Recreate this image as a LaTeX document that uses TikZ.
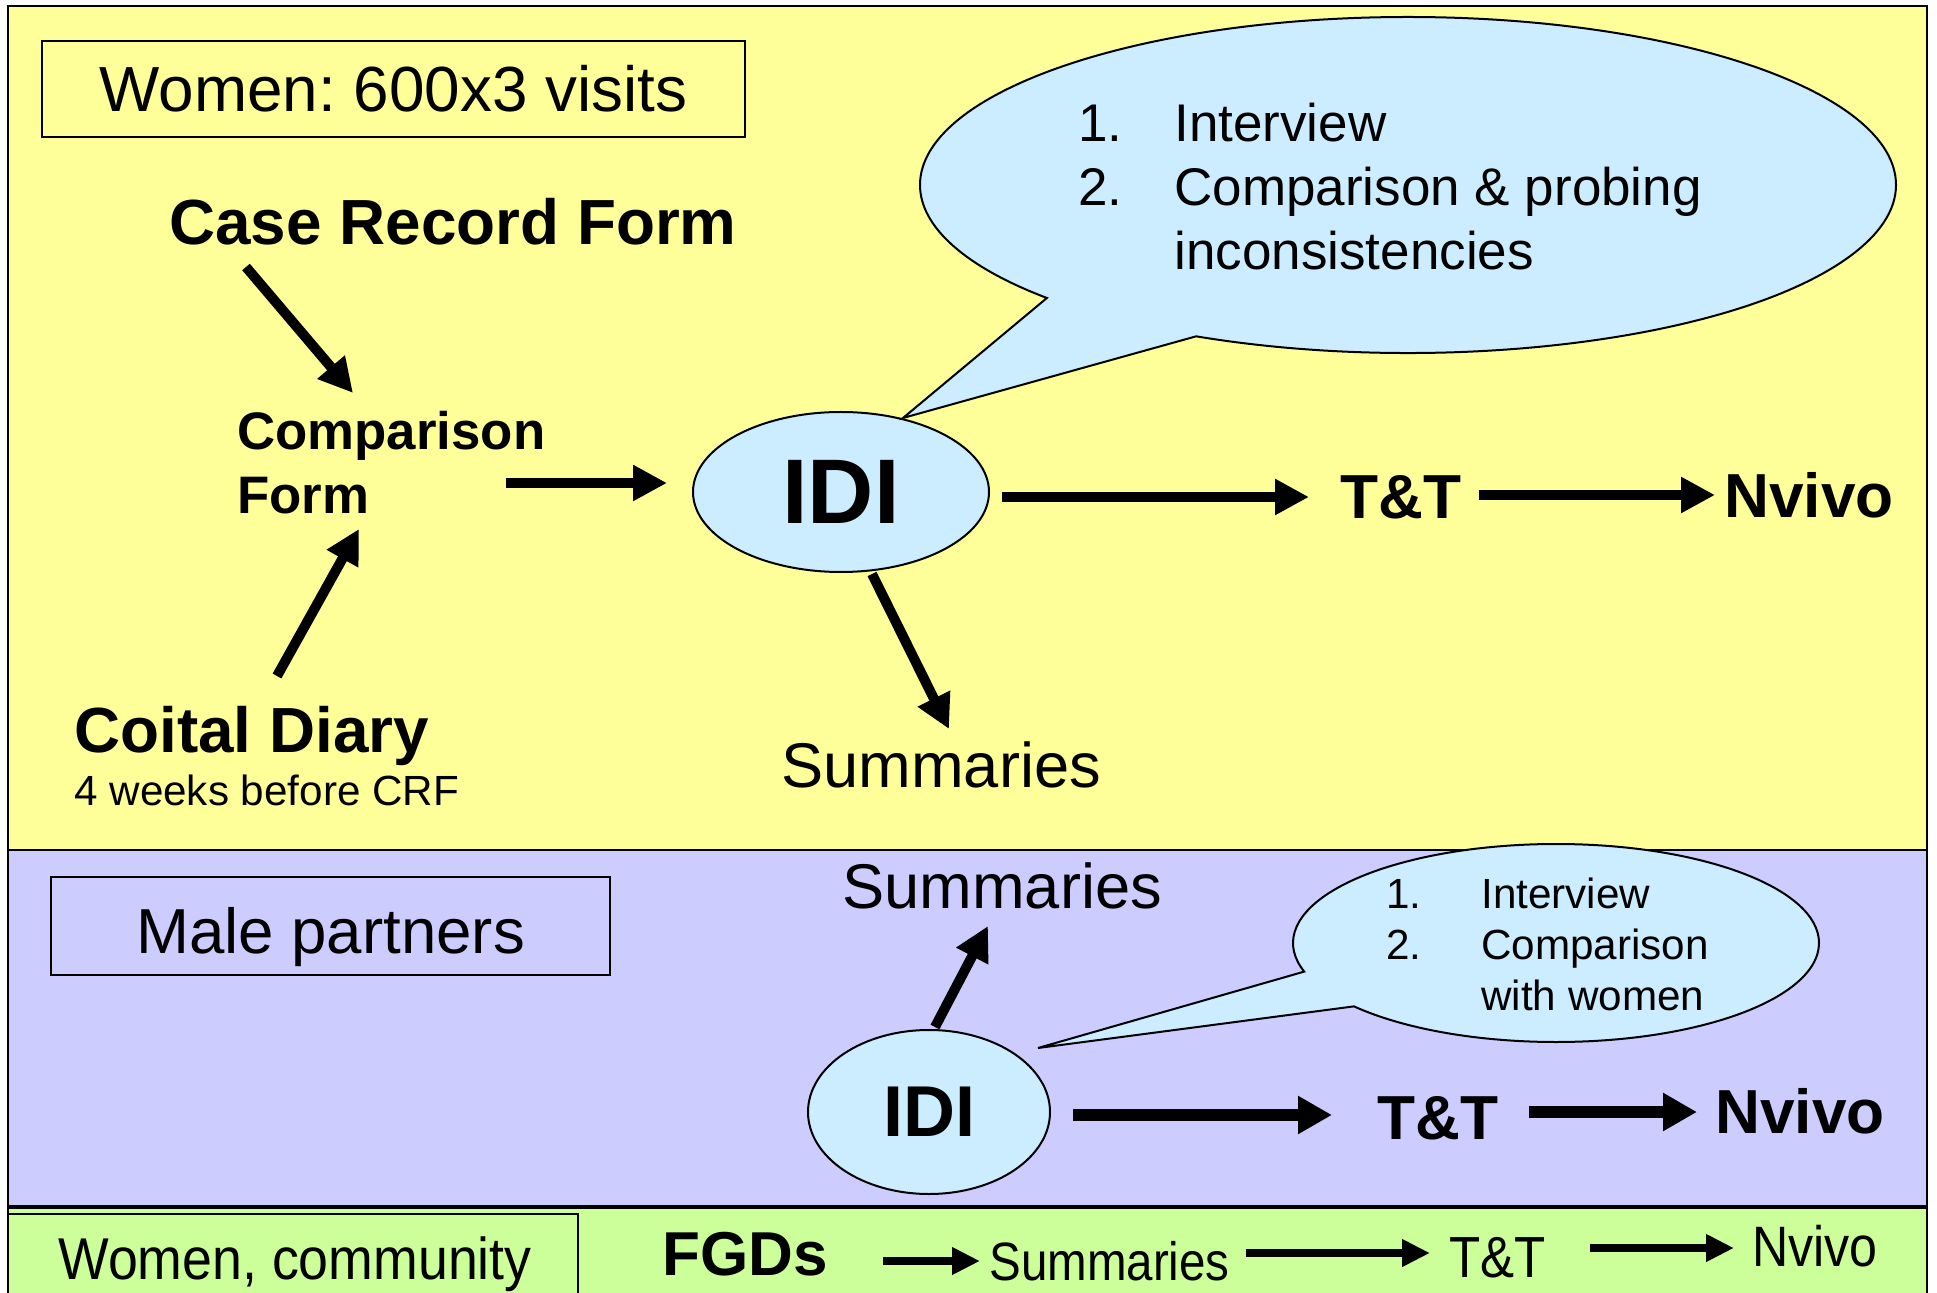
\documentclass[tikz,border=0pt]{standalone}
\usepackage{fontspec}
\setmainfont{Liberation Sans}
\newfontfamily\narrowfont{Liberation Sans}[FakeStretch=0.88]
\newfontfamily\commfont{Liberation Sans}[FakeStretch=0.91]
\usetikzlibrary{arrows.meta,shapes.geometric,shapes.callouts}
\definecolor{panelY}{HTML}{FFFF99}
\definecolor{panelP}{HTML}{CCCCFF}
\definecolor{panelG}{HTML}{CCFF99}
\definecolor{bubble}{HTML}{CCECFF}
\newcommand\myfs[2]{\fontsize{#1}{#2}\selectfont}
\begin{document}
\frenchspacing
\begin{tikzpicture}[x=0.5pt,y=-0.5pt,
  txt/.style={inner sep=0pt, anchor=base west},
  framebox/.style={draw, line width=1pt, inner sep=0pt},
  blob/.style={ellipse, draw, fill=bubble, line width=1pt, inner sep=0pt},
  bub/.style={ellipse callout, draw, fill=bubble, line width=1pt},
  arr/.style={line width=5pt, -{Triangle[length=17pt,width=17pt]}},
  arrM/.style={line width=6pt, -{Triangle[length=17pt,width=18pt]}},
  arrF/.style={line width=4pt, -{Triangle[length=14pt,width=13pt]}}]
\useasboundingbox (0,0) rectangle (1937,1293);
\clip (0,0) rectangle (1937,1293);
% panels
\filldraw[fill=panelY, line width=1pt] (8,6) rectangle (1927,850);
\filldraw[fill=panelP, line width=1pt] (8,850) rectangle (1927,1206);
\filldraw[fill=panelG, line width=1pt] (8,1208) rectangle (1927,1320);
% boxes
\node[framebox, minimum width=351.5pt, minimum height=48pt, font=\myfs{31.9}{38}] (womenbox) at (393.5,89) {Women: 600x3 visits};
\node[framebox, minimum width=279.5pt, minimum height=49pt] (malebox) at (330.5,926) {};
\node[inner sep=0pt, anchor=base, font=\myfs{31.8}{38}] (maletxt) at (330.5,953) {Male partners};
\node[framebox, minimum width=285pt, minimum height=50pt] (commbox) at (293,1264) {};
\node[inner sep=0pt, anchor=base, font=\commfont\myfs{29.5}{34}] (commtxt) at (295,1279) {Women, community};
% women panel
\node[txt, font=\bfseries\myfs{31.9}{38}] (crf) at (169,245) {Case Record Form};
\node[txt, align=left, font=\bfseries\myfs{26.4}{32}] (cmp) at (237,514) {Comparison\\Form};
\node[txt, font=\bfseries\myfs{31.9}{38}] (cdiary) at (74,752) {Coital Diary};
\node[txt, font=\myfs{21.1}{25}] (wk4) at (74,805) {4 weeks before CRF};
\node[blob, minimum width=148pt, minimum height=80pt, font=\bfseries\myfs{45.9}{50}] (idiW) at (841,492) {IDI};
\node[bub, minimum width=488pt, minimum height=168pt, callout pointer arc=22,
  callout absolute pointer={([shift={(62,-74)}]idiW.center)}] (callW) at (1408,185) {};
\node[txt, align=left, font=\myfs{26.5}{32}] (callWtxt) at (1078,270)
  {\makebox[48pt][l]{1.}Interview\\\makebox[48pt][l]{2.}Comparison \& probing\\\hspace*{48pt}inconsistencies};
\node[txt, font=\bfseries\myfs{31.1}{38}] (tntW) at (1340,519) {T\&T};
\node[txt, font=\bfseries\myfs{31.1}{38}] (nvW) at (1724,518) {Nvivo};
\node[txt, font=\myfs{31.6}{38}] (sumW) at (781,787) {Summaries};
% male panel
\node[txt, font=\myfs{31.6}{38}] (sumM) at (842,908) {Summaries};
\node[blob, minimum width=121pt, minimum height=82pt, font=\bfseries\myfs{36}{40}] (idiM) at (929,1112) {IDI};
\node[bub, minimum width=263pt, minimum height=99pt, callout pointer arc=23,
  callout absolute pointer={([shift={(109,-64)}]idiM.center)}] (callM) at (1556,943) {};
\node[txt, align=left, font=\myfs{21.1}{25.5}] (callMtxt) at (1386,1010)
  {\makebox[47.5pt][l]{1.}Interview\\\makebox[47.5pt][l]{2.}Comparison\\\hspace*{47.5pt}with women};
\node[txt, font=\bfseries\myfs{31.1}{38}] (tntM) at (1377,1139) {T\&T};
\node[txt, font=\bfseries\myfs{31.1}{38}] (nvM) at (1715,1133) {Nvivo};
% community panel
\node[txt, font=\bfseries\myfs{31}{38}] (fgd) at (662,1275) {FGDs};
\node[txt, font=\narrowfont\myfs{27}{32}] (sumF) at (989,1280) {Summaries};
\node[txt, font=\narrowfont\myfs{29}{34}] (tntF) at (1449,1277) {T\&T};
\node[txt, font=\narrowfont\myfs{28.5}{34}] (nvF) at (1752,1266) {Nvivo};
% arrows women
\draw[arr] ([shift={(77,22)}]crf.base west) -- ([shift={(116,-121)}]cmp.base west);
\draw[arr] ([shift={(203,-76)}]cdiary.base west) -- ([shift={(122,15)}]cmp.base west);
\draw[arr] ([shift={(269,-31)}]cmp.base west) -- ([shift={(-25,-9)}]idiW.west);
\draw[arr] ([shift={(12,5)}]idiW.east) -- ([shift={(-31,-22)}]tntW.base west);
\draw[arr] ([shift={(139,-24)}]tntW.base west) -- ([shift={(-9,-23)}]nvW.base west);
\draw[arr] ([shift={(31,1)}]idiW.south) -- ([shift={(168,-58)}]sumW.base west);
% arrows male
\draw[arr] ([shift={(6,-2)}]idiM.north) -- ([shift={(146,18)}]sumM.base west);
\draw[arrM] ([shift={(22,3)}]idiM.east) -- ([shift={(-45,-24)}]tntM.base west);
\draw[arrM] ([shift={(152,-27)}]tntM.base west) -- ([shift={(-18,-21)}]nvM.base west);
% arrows community
\draw[arrF] ([shift={(221,-14)}]fgd.base west) -- ([shift={(-9,-19)}]sumF.base west);
\draw[arrF] ([shift={(257,-27)}]sumF.base west) -- ([shift={(-19,-24)}]tntF.base west);
\draw[arrF] ([shift={(141,-29)}]tntF.base west) -- ([shift={(-18,-18)}]nvF.base west);
\end{tikzpicture}
\end{document}
